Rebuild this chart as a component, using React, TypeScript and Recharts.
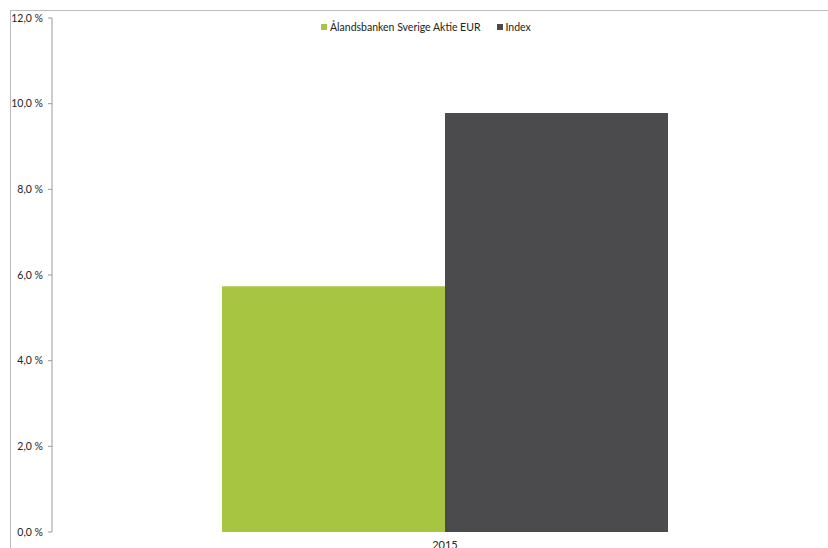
import React from "react";
import { BarChart, Bar, XAxis, YAxis, Legend } from "recharts";

const categories = ["2015"];
const fundValues = [5.74];
const indexValues = [9.78];
const yTicks = [0, 2, 4, 6, 8, 10, 12];
const seriesNames = ["Ålandsbanken Sverige Aktie EUR", "Index"];
const seriesColors = ["#A8C542", "#4B4B4D"];

const data = categories.map((c, i) => ({
  year: c,
  fund: fundValues[i],
  index: indexValues[i],
}));

const FONT = "Lato, 'Open Sans', sans-serif";

const fmt = (v: number) => v.toFixed(1).replace(".", ",") + " %";

const LegendContent = () => (
  <div style={{ display: "flex", alignItems: "center", fontFamily: FONT, fontSize: 10.5, color: "#222", whiteSpace: "nowrap" }}>
    {seriesNames.map((n, i) => (
      <div key={n} style={{ display: "flex", alignItems: "center", marginRight: i === 0 ? 16 : 0 }}>
        <span style={{ display: "inline-block", width: 6, height: 6, background: seriesColors[i], marginRight: 3 }} />
        <span>{n}</span>
      </div>
    ))}
  </div>
);

export default function App() {
  return (
    <div style={{ position: "fixed", left: 0, top: 0, width: 828, height: 548, overflow: "hidden", background: "#fff" }}>
      <div
        style={{
          position: "absolute",
          left: 10,
          top: 10,
          width: 900,
          height: 700,
          border: "1px solid #BDBDBD",
          boxSizing: "border-box",
        }}
      />
      <div style={{ position: "absolute", left: 0, top: 0 }}>
        <BarChart
          width={860}
          height={580}
          data={data}
          margin={{ top: 18, right: 22, bottom: 18, left: 0 }}
          barGap={0}
          barCategoryGap={170}
        >
          <XAxis
            dataKey="year"
            axisLine={false}
            tickLine={false}
            tickSize={0}
            tickMargin={9}
            height={30}
            tick={{ fontFamily: FONT, fontSize: 11, fill: "#222" }}
          />
          <YAxis
            width={52}
            domain={[0, 12]}
            ticks={yTicks}
            interval={0}
            tickFormatter={fmt}
            axisLine={{ stroke: "#9A9A9A" }}
            tickLine={{ stroke: "#9A9A9A" }}
            tickSize={4}
            tickMargin={5}
            tick={{ fontFamily: FONT, fontSize: 10.5, fill: "#222" }}
          />
          <Legend
            verticalAlign="middle"
            align="center"
            layout="horizontal"
            content={<LegendContent />}
            wrapperStyle={{ position: "absolute", left: 321, top: 21, width: "auto", height: "auto" }}
          />
          <Bar dataKey="fund" name={seriesNames[0]} fill={seriesColors[0]} isAnimationActive={false} />
          <Bar dataKey="index" name={seriesNames[1]} fill={seriesColors[1]} isAnimationActive={false} />
        </BarChart>
      </div>
    </div>
  );
}
